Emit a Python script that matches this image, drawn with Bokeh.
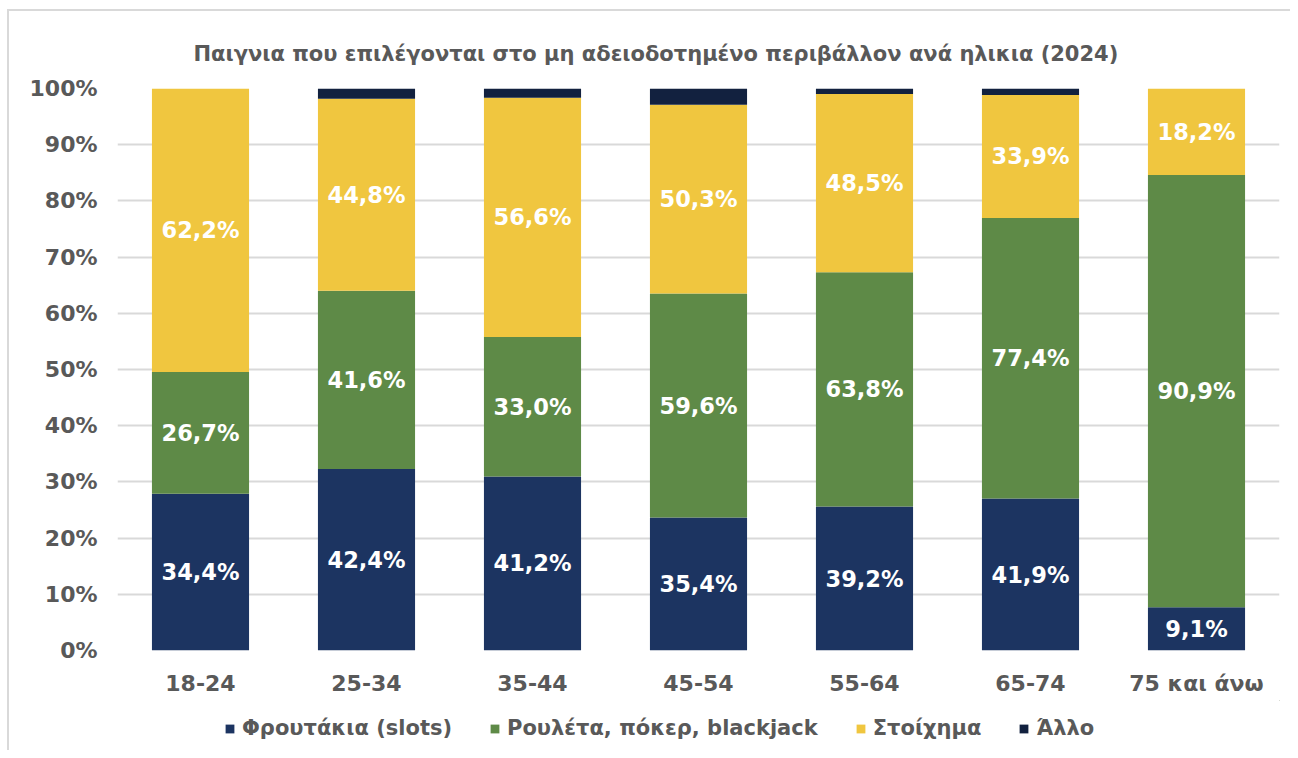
from bokeh.plotting import figure
from bokeh.layouts import column
from bokeh.models import ColumnDataSource, Legend, LegendItem, FixedTicker, NumeralTickFormatter, Title, Range1d
from bokeh.core.properties import value
from bokeh.embed import file_html
from bokeh.resources import INLINE

ages = ["18-24", "25-34", "35-44", "45-54", "55-64", "65-74", "75 και άνω"]
slots = [34.4, 42.4, 41.2, 35.4, 39.2, 41.9, 9.1]
table = [26.7, 41.6, 33.0, 59.6, 63.8, 77.4, 90.9]
betting = [62.2, 44.8, 56.6, 50.3, 48.5, 33.9, 18.2]
other = [0.0, 2.4, 2.2, 4.3, 1.5, 1.8, 0.0]
series_names = ["Φρουτάκια (slots)", "Ρουλέτα, πόκερ, blackjack", "Στοίχημα", "Άλλο"]
colors = ["#1C3461", "#5E8A47", "#F0C63F", "#12213F"]
title_text = "Παιγνια που επιλέγονται στο μη αδειοδοτημένο περιβάλλον ανά ηλικια (2024)"

FONT = "DejaVu Sans"
GREY = "#595959"

totals = [a + b + c + d for a, b, c, d in zip(slots, table, betting, other)]
fr = {
    "slots": [v / t for v, t in zip(slots, totals)],
    "table": [v / t for v, t in zip(table, totals)],
    "betting": [v / t for v, t in zip(betting, totals)],
    "other": [v / t for v, t in zip(other, totals)],
}
data = dict(age=ages, **fr)
keys = ["slots", "table", "betting", "other"]
raw = {"slots": slots, "table": table, "betting": betting, "other": other}

p = figure(x_range=ages, y_range=Range1d(0, 1), width=1281, height=689,
           output_backend="svg", toolbar_location=None,
           min_border_left=108, min_border_right=11, min_border_top=77, min_border_bottom=50)
p.outline_line_color = None
p.border_fill_color = "white"

src = ColumnDataSource(data)
rs = p.vbar_stack(keys, x="age", width=0.585, source=src, color=colors, line_color=None)

bottom = [0.0] * len(ages)
for k in keys[:3]:
    mids = [b + f / 2 for b, f in zip(bottom, fr[k])]
    labels = [("%.1f%%" % v).replace(".", ",") for v in raw[k]]
    lsrc = ColumnDataSource(dict(age=ages, y=mids, t=labels))
    p.text(x="age", y="y", text="t", source=lsrc, text_align="center", text_baseline="middle",
           text_color="white", text_font=value(FONT), text_font_style="bold", text_font_size="22.5px")
    bottom = [b + f for b, f in zip(bottom, fr[k])]

p.yaxis.ticker = FixedTicker(ticks=[i / 10 for i in range(11)])
p.yaxis.formatter = NumeralTickFormatter(format="0%")
for ax in (p.xaxis, p.yaxis):
    ax.axis_line_color = None
    ax.major_tick_line_color = None
    ax.minor_tick_line_color = None
    ax.major_label_text_font = FONT
    ax.major_label_text_font_style = "bold"
    ax.major_label_text_font_size = "22px"
    ax.major_label_text_color = GREY
p.yaxis.major_label_standoff = 14
p.xaxis.major_label_standoff = 14
p.xgrid.grid_line_color = None
p.ygrid.grid_line_color = "#D9D9D9"
p.ygrid.grid_line_width = 2
p.ygrid.level = "underlay"

p.title = Title(text=title_text, align="left", offset=76, text_font=FONT, text_font_style="bold",
                text_font_size="21px", text_color=GREY, standoff=46)

# legend row
lg = figure(width=1281, height=50, x_range=Range1d(0, 1), y_range=Range1d(0, 1),
            output_backend="svg", toolbar_location=None,
            min_border_left=0, min_border_right=0, min_border_top=0, min_border_bottom=0)
lg.axis.visible = False
lg.grid.visible = False
lg.outline_line_color = None
dummies = [lg.vbar(x=[5], top=[5], bottom=[4], width=0.1, color=c, line_color=None) for c in colors]
items = [LegendItem(label=n, renderers=[r]) for n, r in zip(series_names, dummies)]
legend = Legend(items=items, orientation="horizontal", location=(107, 10),
                label_text_font=FONT, label_text_font_style="bold", label_text_font_size="21px",
                label_text_color=GREY, glyph_width=11, glyph_height=11, spacing=37,
                label_standoff=7, border_line_color=None, background_fill_alpha=0,
                padding=0, margin=0)
lg.add_layout(legend, "center")

layout = column(p, lg, spacing=0, margin=(9, 0, 0, 7),
                styles={"border-left": "2px solid #D9D9D9", "border-top": "2px solid #D9D9D9"})
open("out.html", "w").write(file_html(layout, INLINE))
